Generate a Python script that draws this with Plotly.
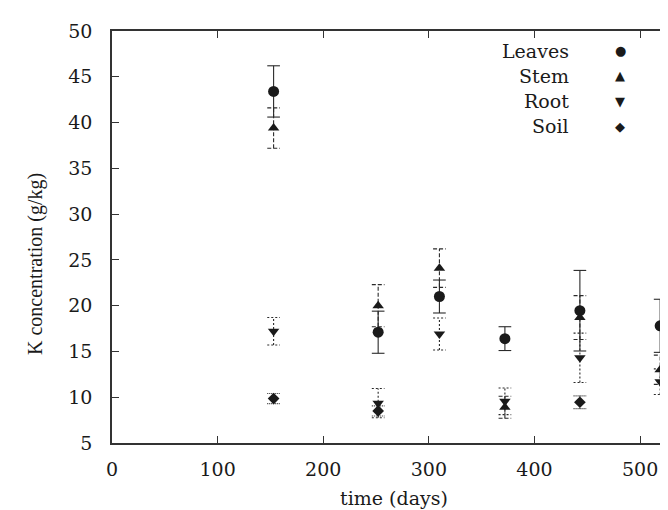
import plotly.graph_objects as go

# ---- data ----
leaves_days = [153, 252, 310, 372, 443, 519]
leaves_k = [43.4, 17.1, 21.0, 16.4, 19.45, 17.8]
leaves_err = [2.8, 2.3, 1.8, 1.3, 4.4, 2.9]

stem_days = [153, 252, 310, 372, 443, 519]
stem_k = [39.4, 20.0, 24.1, 8.9, 18.7, 13.0]
stem_err = [2.2, 2.3, 2.1, 1.2, 2.4, 1.6]

root_days = [153, 252, 310, 372, 443, 519]
root_k = [17.2, 9.35, 16.9, 9.55, 14.3, 11.7]
root_err = [1.5, 1.6, 1.75, 1.45, 2.7, 1.4]

soil_days = [153, 252, 443]
soil_k = [9.85, 8.5, 9.45]
soil_err = [0.55, 0.55, 0.7]

x_ticks = [0, 100, 200, 300, 400, 500]
y_ticks = [5, 10, 15, 20, 25, 30, 35, 40, 45, 50]

FONT = "DejaVu Serif"
INK = "#1a1a1a"
CAP = 6.0  # half cap width in days

series = [
    ("Leaves", leaves_days, leaves_k, leaves_err, "circle", 11, "solid", "●"),
    ("Stem", stem_days, stem_k, stem_err, "triangle-up", 10, "4px,2px", "▲"),
    ("Root", root_days, root_k, root_err, "triangle-down", 10, "2px,2px", "▼"),
    ("Soil", soil_days, soil_k, soil_err, "diamond", 9, "1px,1px", "◆"),
]


def bar_path(xs, ys, es):
    px, py = [], []
    for x, y, e in zip(xs, ys, es):
        px += [x, x, None, x - CAP, x + CAP, None, x - CAP, x + CAP, None]
        py += [y - e, y + e, None, y + e, y + e, None, y - e, y - e, None]
    return px, py


fig = go.Figure()
for name, xs, ys, es, sym, size, dash, glyph in series:
    bx, by = bar_path(xs, ys, es)
    fig.add_trace(go.Scatter(x=bx, y=by, mode="lines",
                             line=dict(color="#2a2a2a", width=1.1, dash=dash),
                             showlegend=False, hoverinfo="skip"))
for name, xs, ys, es, sym, size, dash, glyph in series:
    fig.add_trace(go.Scatter(x=xs, y=ys, mode="markers", name=name,
                             marker=dict(symbol=sym, size=size, color=INK,
                                         line=dict(width=0)),
                             showlegend=False))

# legend: right-aligned labels with the symbol to their right
leg_y = [43, 68, 93, 118]
for (name, xs, ys, es, sym, size, dash, glyph), yy in zip(series, leg_y):
    fig.add_annotation(xref="paper", yref="paper",
                       x=(563 - 104) / 564.0, y=(435 - yy) / 412.0,
                       text=name, showarrow=False, xanchor="right",
                       yanchor="middle",
                       font=dict(family=FONT, size=19, color=INK))
    fig.add_annotation(xref="paper", yref="paper",
                       x=(612 - 104) / 564.0, y=(435 - yy) / 412.0,
                       text=glyph, showarrow=False, xanchor="center",
                       yanchor="middle",
                       font=dict(family="DejaVu Sans", size=13, color=INK))

# y-axis title placed as rotated text
fig.add_annotation(xref="paper", yref="paper", x=(27 - 104) / 564.0,
                   y=(435 - 256) / 412.0, text="K concentration (g/kg)",
                   textangle=-90, showarrow=False, xanchor="center",
                   yanchor="middle",
                   font=dict(family="Liberation Serif", size=20, color=INK))

axis_common = dict(showline=True, linecolor="#333333", linewidth=1.5,
                   ticks="inside", ticklen=7, tickwidth=1.2, tickcolor="#333333",
                   showgrid=False, zeroline=False,
                   tickfont=dict(family=FONT, size=19, color=INK))

fig.update_layout(
    width=668, height=510,
    margin=dict(l=104, r=0, t=23, b=75),
    paper_bgcolor="white", plot_bgcolor="white",
    font=dict(family=FONT, size=19, color=INK),
    xaxis=dict(range=[0, 534], tickvals=x_ticks, mirror="ticks",
               ticklabelstandoff=8,
               title=dict(text="time (days)", standoff=13,
                          font=dict(family=FONT, size=19, color=INK)),
               **axis_common),
    yaxis=dict(range=[5, 50], tickvals=y_ticks, mirror=False,
               ticklabelstandoff=14,
               **axis_common),
)

fig.write_html("out.html")
